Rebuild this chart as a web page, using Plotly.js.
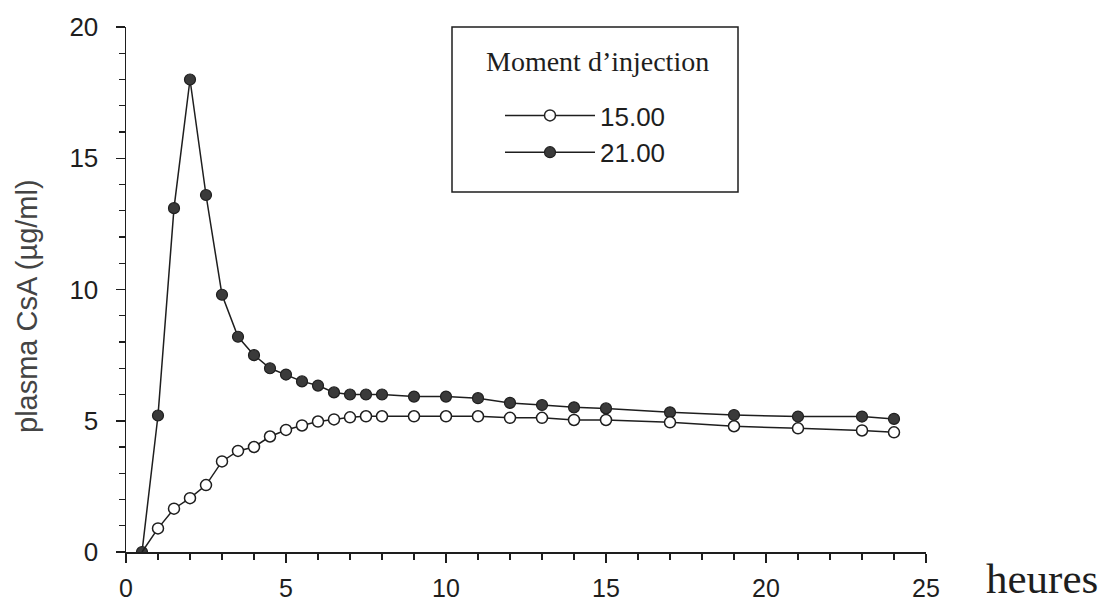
<!DOCTYPE html>
<html>
<head>
<meta charset="utf-8">
<script src="https://cdn.plot.ly/plotly-3.0.1.min.js"></script>
<style>
  html, body { margin: 0; padding: 0; background: #ffffff; }
  #chart { width: 1106px; height: 605px; }
</style>
</head>
<body>
<div id="chart"></div>
<script>
// Hours after injection
const hours = [0.5, 1, 1.5, 2, 2.5, 3, 3.5, 4, 4.5, 5, 5.5, 6, 6.5, 7, 7.5, 8,
               9, 10, 11, 12, 13, 14, 15, 17, 19, 21, 23, 24];
// Injection at 15.00 (open circles)
const inj1500 = [0, 0.9, 1.65, 2.05, 2.55, 3.45, 3.85, 4.0, 4.4, 4.65, 4.82, 4.97, 5.05, 5.13, 5.17, 5.17,
                 5.17, 5.17, 5.17, 5.11, 5.11, 5.03, 5.03, 4.94, 4.79, 4.71, 4.63, 4.56];
// Injection at 21.00 (filled circles)
const inj2100 = [0, 5.2, 13.1, 18.0, 13.6, 9.8, 8.2, 7.5, 7.0, 6.76, 6.5, 6.34, 6.08, 6.0, 6.0, 6.0,
                 5.92, 5.92, 5.86, 5.68, 5.6, 5.51, 5.47, 5.32, 5.22, 5.16, 5.16, 5.07];
const seriesNames = ["15.00", "21.00"];
const legendTitle = "Moment d\u2019injection";
const xTitle = "heures";
const yTitle = "plasma CsA (\u00b5g/ml)";

const ink = "#1e1e1e";

const traces = [
  {
    x: hours, y: inj2100, name: seriesNames[1], type: "scatter", mode: "lines+markers",
    legendgroup: "b", legendrank: 2,
    line: {color: ink, width: 1.5},
    marker: {symbol: "circle", size: 11, color: "#3a3a3a", line: {color: ink, width: 1.2}}
  },
  {
    x: hours, y: inj1500, name: seriesNames[0], type: "scatter", mode: "lines+markers",
    legendgroup: "a", legendrank: 1,
    line: {color: ink, width: 1.5},
    marker: {symbol: "circle", size: 11, color: "#ffffff", line: {color: ink, width: 1.5},
             opacity: hours.map((h, i) => i === 0 ? 0 : 1)}
  }
];

const L = 126, R = 926, T = 27, B = 552;
const px = v => (v - L) / (R - L);
const py = v => (B - v) / (B - T);

const layout = {
  width: 1106, height: 605,
  margin: {l: L, r: 1106 - R, t: T, b: 605 - B, pad: 0},
  paper_bgcolor: "#ffffff", plot_bgcolor: "#ffffff",
  font: {family: "Liberation Sans, Arial, sans-serif", color: ink, size: 25},
  showlegend: true,
  legend: {
    x: px(500), y: py(92), xanchor: "left", yanchor: "top",
    bgcolor: "rgba(0,0,0,0)", borderwidth: 0,
    font: {family: "Liberation Sans, Arial, sans-serif", size: 26, color: ink},
    itemwidth: 90, tracegroupgap: 11, traceorder: "normal"
  },
  xaxis: {
    range: [0, 25], dtick: 5, tick0: 0, showgrid: false, zeroline: false,
    showline: true, linecolor: ink, linewidth: 1.5,
    ticks: "outside", ticklen: 9, tickwidth: 1.5, tickcolor: ink,
    ticklabelstandoff: 4,
    minor: {dtick: 1, ticks: "outside", ticklen: 6, tickwidth: 1.2, tickcolor: ink, showgrid: false},
    tickfont: {size: 25, color: ink}, fixedrange: true
  },
  yaxis: {
    range: [0, 20], dtick: 5, tick0: 0, showgrid: false, zeroline: false,
    showline: true, linecolor: ink, linewidth: 1.5,
    ticks: "outside", ticklen: 9, tickwidth: 1.5, tickcolor: ink,
    ticklabelstandoff: 12,
    minor: {dtick: 1, ticks: "outside", ticklen: 6, tickwidth: 1.2, tickcolor: ink, showgrid: false},
    tickfont: {size: 26, color: ink}, fixedrange: true
  },
  shapes: [
    {type: "rect", xref: "paper", yref: "paper", x0: px(452), x1: px(738), y0: py(192), y1: py(27),
     line: {color: ink, width: 1.5}, fillcolor: "rgba(0,0,0,0)"}
  ],
  annotations: [
    {text: legendTitle, xref: "paper", yref: "paper", x: px(597), y: py(61),
     xanchor: "center", yanchor: "middle", showarrow: false,
     font: {family: "Liberation Serif, Times New Roman, serif", size: 28, color: ink}},
    {text: xTitle, xref: "paper", yref: "paper", x: px(1100), y: py(604),
     xanchor: "right", yanchor: "bottom", showarrow: false,
     font: {family: "Liberation Serif, Times New Roman, serif", size: 43, color: ink}},
    {text: yTitle, xref: "paper", yref: "paper", x: px(27), y: py(306), textangle: -90,
     xanchor: "center", yanchor: "middle", showarrow: false,
     font: {family: "Liberation Sans, Arial, sans-serif", size: 29, color: "#444444"}}
  ]
};

Plotly.newPlot("chart", traces, layout, {displayModeBar: false, staticPlot: true});
</script>
</body>
</html>
